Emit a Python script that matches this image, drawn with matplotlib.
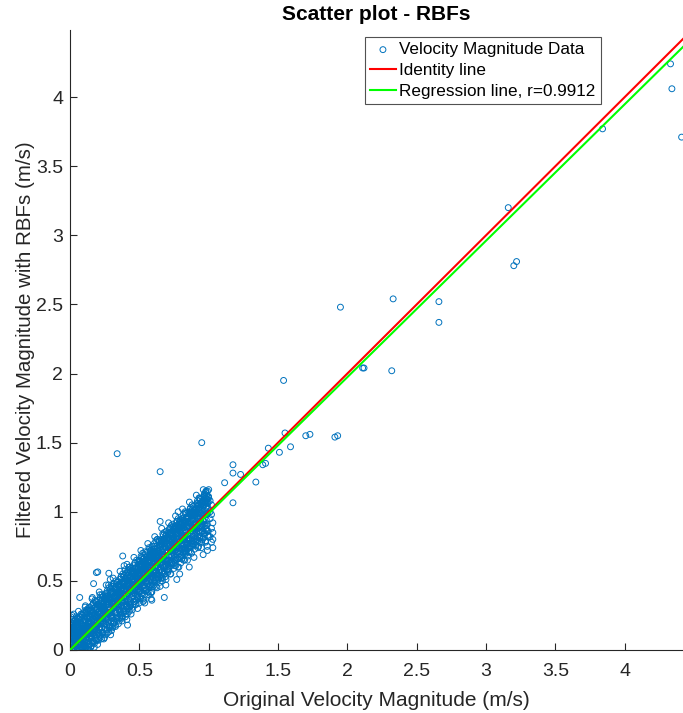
import numpy as np
import matplotlib
matplotlib.use("Agg")
import matplotlib.pyplot as plt

plt.rcParams["font.family"] = ["Liberation Sans", "DejaVu Sans"]

# dense cluster (original, filtered)
cluster_x = [
    0.004, 0.007, 0.009, 0.012, 0.014, 0.017, 0.019, 0.021, 0.023, 0.026, 0.028, 0.031, 0.033, 0.035, 0.037, 0.040, 0.042, 0.044, 0.046, 0.048, 0.011, 0.025, 0.038, 0.016,
    0.051, 0.053, 0.056, 0.058, 0.061, 0.063, 0.066, 0.068, 0.070, 0.073, 0.075, 0.077, 0.080, 0.082, 0.084, 0.087, 0.089, 0.091, 0.094, 0.096, 0.099, 0.059, 0.078, 0.092,
    0.101, 0.103, 0.106, 0.108, 0.111, 0.113, 0.116, 0.118, 0.120, 0.123, 0.125, 0.127, 0.130, 0.132, 0.134, 0.137, 0.139, 0.141, 0.144, 0.146, 0.149, 0.109, 0.128, 0.142,
    0.151, 0.153, 0.156, 0.158, 0.161, 0.163, 0.166, 0.168, 0.170, 0.173, 0.175, 0.177, 0.180, 0.182, 0.184, 0.187, 0.189, 0.191, 0.194, 0.196, 0.199, 0.159, 0.178, 0.192,
    0.201, 0.203, 0.206, 0.208, 0.211, 0.213, 0.216, 0.218, 0.220, 0.223, 0.225, 0.227, 0.230, 0.232, 0.234, 0.237, 0.239, 0.241, 0.244, 0.246, 0.249, 0.209, 0.228, 0.242,
    0.252, 0.254, 0.257, 0.259, 0.262, 0.264, 0.267, 0.269, 0.271, 0.274, 0.276, 0.278, 0.281, 0.283, 0.285, 0.288, 0.290, 0.292, 0.295, 0.297, 0.299, 0.256, 0.279, 0.293,
    0.301, 0.304, 0.306, 0.308, 0.311, 0.313, 0.316, 0.318, 0.321, 0.323, 0.325, 0.328, 0.330, 0.332, 0.335, 0.337, 0.339, 0.342, 0.344, 0.346, 0.349, 0.309, 0.327, 0.341,
    0.351, 0.353, 0.356, 0.358, 0.361, 0.363, 0.366, 0.368, 0.371, 0.373, 0.375, 0.378, 0.380, 0.382, 0.385, 0.387, 0.389, 0.392, 0.394, 0.396, 0.399, 0.359, 0.377, 0.391,
    0.401, 0.404, 0.406, 0.409, 0.411, 0.413, 0.416, 0.418, 0.421, 0.423, 0.426, 0.428, 0.430, 0.433, 0.435, 0.437, 0.440, 0.442, 0.444, 0.447, 0.449, 0.412, 0.427, 0.439,
    0.451, 0.454, 0.456, 0.459, 0.461, 0.463, 0.466, 0.468, 0.471, 0.473, 0.476, 0.478, 0.480, 0.483, 0.485, 0.487, 0.490, 0.492, 0.494, 0.497, 0.499, 0.462, 0.479, 0.491,
    0.501, 0.504, 0.506, 0.509, 0.511, 0.513, 0.516, 0.518, 0.521, 0.523, 0.526, 0.528, 0.530, 0.533, 0.535, 0.537, 0.540, 0.542, 0.544, 0.547, 0.549, 0.512, 0.527, 0.539,
    0.551, 0.554, 0.556, 0.559, 0.561, 0.563, 0.566, 0.568, 0.571, 0.573, 0.576, 0.578, 0.580, 0.583, 0.585, 0.587, 0.590, 0.592, 0.594, 0.597, 0.599, 0.562, 0.579, 0.591,
    0.601, 0.604, 0.606, 0.609, 0.611, 0.613, 0.616, 0.618, 0.621, 0.623, 0.626, 0.628, 0.630, 0.633, 0.635, 0.637, 0.640, 0.642, 0.644, 0.647, 0.649, 0.612, 0.627, 0.641,
    0.651, 0.654, 0.656, 0.659, 0.661, 0.663, 0.666, 0.668, 0.671, 0.673, 0.676, 0.678, 0.680, 0.683, 0.685, 0.687, 0.690, 0.692, 0.694, 0.697, 0.699, 0.662, 0.679, 0.691,
    0.701, 0.704, 0.706, 0.709, 0.711, 0.713, 0.716, 0.718, 0.721, 0.723, 0.726, 0.728, 0.730, 0.733, 0.735, 0.737, 0.740, 0.742, 0.744, 0.747, 0.749, 0.712, 0.727, 0.739,
    0.751, 0.754, 0.756, 0.759, 0.761, 0.763, 0.766, 0.768, 0.771, 0.773, 0.776, 0.778, 0.780, 0.783, 0.785, 0.787, 0.790, 0.792, 0.794, 0.797, 0.799, 0.762, 0.779, 0.791,
    0.801, 0.804, 0.806, 0.809, 0.811, 0.813, 0.816, 0.818, 0.821, 0.823, 0.826, 0.828, 0.830, 0.833, 0.835, 0.837, 0.840, 0.842, 0.844, 0.847, 0.849, 0.812, 0.827, 0.841,
    0.851, 0.854, 0.856, 0.859, 0.861, 0.863, 0.866, 0.868, 0.871, 0.873, 0.876, 0.878, 0.880, 0.883, 0.885, 0.887, 0.890, 0.892, 0.894, 0.897, 0.899, 0.862, 0.879, 0.891,
    0.901, 0.904, 0.906, 0.909, 0.911, 0.913, 0.916, 0.918, 0.921, 0.923, 0.926, 0.928, 0.930, 0.933, 0.935, 0.937, 0.940, 0.942, 0.944, 0.947, 0.949, 0.912, 0.927, 0.941,
    0.951, 0.954, 0.956, 0.959, 0.961, 0.963, 0.966, 0.968, 0.971, 0.973, 0.976, 0.978, 0.980, 0.983, 0.985, 0.987, 0.990, 0.992, 0.994, 0.997, 0.999, 0.962, 0.979, 0.991,
]
cluster_y = [
    0.02, 0.09, 0.15, 0.05, 0.12, 0.19, 0.03, 0.08, 0.17, 0.11, 0.01, 0.14, 0.06, 0.21, 0.10, 0.04, 0.13, 0.18, 0.07, 0.16, 0.22, 0.12, 0.09, 0.00,
    0.11, 0.03, 0.18, 0.07, 0.14, 0.22, 0.01, 0.10, 0.16, 0.05, 0.24, 0.12, 0.08, 0.19, 0.02, 0.15, 0.26, 0.09, 0.13, 0.04, 0.17, 0.20, 0.11, 0.07,
    0.15, 0.06, 0.21, 0.11, 0.03, 0.18, 0.27, 0.09, 0.14, 0.23, 0.01, 0.16, 0.12, 0.29, 0.07, 0.20, 0.13, 0.04, 0.24, 0.17, 0.10, 0.31, 0.19, 0.08,
    0.19, 0.10, 0.26, 0.14, 0.05, 0.22, 0.33, 0.12, 0.17, 0.28, 0.02, 0.20, 0.15, 0.35, 0.09, 0.24, 0.18, 0.07, 0.30, 0.21, 0.13, 0.37, 0.25, 0.11,
    0.18, 0.27, 0.12, 0.33, 0.22, 0.16, 0.40, 0.09, 0.26, 0.21, 0.32, 0.16, 0.38, 0.23, 0.12, 0.30, 0.21, 0.34, 0.08, 0.28, 0.38, 0.15, 0.31, 0.20,
    0.30, 0.15, 0.28, 0.40, 0.22, 0.35, 0.12, 0.27, 0.38, 0.20, 0.31, 0.47, 0.26, 0.16, 0.36, 0.42, 0.24, 0.30, 0.21, 0.46, 0.34, 0.25, 0.38, 0.11,
    0.27, 0.40, 0.23, 0.35, 0.48, 0.19, 0.33, 0.39, 0.27, 0.45, 0.32, 0.17, 0.39, 0.44, 0.27, 0.36, 0.49, 0.24, 0.42, 0.33, 0.40, 0.17, 0.45, 0.34,
    0.43, 0.29, 0.37, 0.23, 0.48, 0.40, 0.28, 0.53, 0.35, 0.43, 0.21, 0.48, 0.34, 0.41, 0.53, 0.28, 0.39, 0.48, 0.32, 0.58, 0.39, 0.41, 0.24, 0.50,
    0.35, 0.51, 0.43, 0.31, 0.48, 0.26, 0.56, 0.41, 0.46, 0.34, 0.60, 0.43, 0.31, 0.52, 0.41, 0.57, 0.26, 0.50, 0.38, 0.55, 0.46, 0.32, 0.58, 0.47,
    0.51, 0.43, 0.59, 0.35, 0.49, 0.55, 0.41, 0.63, 0.33, 0.48, 0.56, 0.44, 0.60, 0.39, 0.54, 0.30, 0.59, 0.49, 0.42, 0.65, 0.47, 0.50, 0.36, 0.56,
    0.42, 0.54, 0.62, 0.48, 0.38, 0.58, 0.52, 0.67, 0.46, 0.61, 0.37, 0.55, 0.66, 0.43, 0.59, 0.53, 0.71, 0.49, 0.62, 0.43, 0.58, 0.61, 0.51, 0.34,
    0.58, 0.46, 0.68, 0.52, 0.63, 0.42, 0.58, 0.67, 0.50, 0.73, 0.56, 0.63, 0.47, 0.72, 0.54, 0.67, 0.42, 0.59, 0.70, 0.52, 0.66, 0.55, 0.71, 0.47,
    0.56, 0.69, 0.49, 0.63, 0.75, 0.54, 0.68, 0.61, 0.46, 0.73, 0.67, 0.54, 0.80, 0.60, 0.72, 0.51, 0.65, 0.76, 0.58, 0.70, 0.46, 0.71, 0.61, 0.79,
    0.72, 0.60, 0.79, 0.56, 0.68, 0.76, 0.52, 0.71, 0.65, 0.83, 0.60, 0.68, 0.80, 0.55, 0.75, 0.65, 0.78, 0.51, 0.83, 0.71, 0.63, 0.77, 0.68, 0.47,
    0.64, 0.81, 0.72, 0.57, 0.79, 0.68, 0.87, 0.63, 0.76, 0.55, 0.85, 0.73, 0.68, 0.82, 0.63, 0.80, 0.91, 0.72, 0.66, 0.88, 0.78, 0.58, 0.80, 0.73,
    0.80, 0.65, 0.89, 0.74, 0.84, 0.61, 0.79, 0.88, 0.71, 0.93, 0.66, 0.82, 0.75, 0.88, 0.60, 0.86, 0.72, 0.93, 0.79, 0.71, 0.92, 0.72, 0.84, 0.55,
    0.77, 0.89, 0.68, 0.95, 0.82, 0.73, 0.88, 0.65, 0.93, 0.81, 0.87, 0.72, 0.99, 0.78, 0.92, 0.70, 0.86, 0.96, 0.77, 0.65, 0.95, 0.81, 0.73, 0.89,
    0.93, 0.81, 0.99, 0.74, 0.89, 0.79, 1.02, 0.71, 0.93, 0.86, 0.99, 0.79, 0.89, 1.02, 0.75, 0.94, 0.84, 0.99, 0.67, 0.97, 0.88, 0.98, 0.77, 0.89,
    0.83, 1.00, 0.91, 0.78, 0.97, 0.88, 1.06, 0.82, 0.95, 0.74, 1.05, 0.88, 1.01, 0.78, 0.95, 1.10, 0.86, 0.99, 0.93, 0.74, 1.06, 0.80, 1.00, 0.90,
    0.99, 0.86, 1.08, 0.94, 0.81, 1.04, 0.91, 1.12, 0.85, 0.98, 1.08, 0.79, 1.03, 0.94, 1.12, 0.91, 0.75, 1.06, 0.99, 0.86, 1.11, 0.93, 1.14, 0.72,
]

# second pass over the core of the cluster (tighter around the diagonal)
core_x = [
    0.002, 0.006, 0.010, 0.013, 0.015, 0.018, 0.020, 0.022, 0.024, 0.027, 0.029, 0.030, 0.032, 0.034, 0.036, 0.039, 0.041, 0.043, 0.045, 0.047, 0.049, 0.003, 0.020, 0.033,
    0.050, 0.052, 0.055, 0.057, 0.060, 0.062, 0.064, 0.067, 0.069, 0.071, 0.074, 0.076, 0.079, 0.081, 0.083, 0.086, 0.088, 0.090, 0.093, 0.095, 0.097, 0.054, 0.072, 0.085,
    0.100, 0.102, 0.105, 0.107, 0.110, 0.112, 0.114, 0.117, 0.119, 0.121, 0.124, 0.126, 0.129, 0.131, 0.133, 0.136, 0.138, 0.140, 0.143, 0.145, 0.147, 0.104, 0.122, 0.135,
    0.150, 0.152, 0.155, 0.157, 0.160, 0.162, 0.164, 0.167, 0.169, 0.171, 0.174, 0.176, 0.179, 0.181, 0.183, 0.186, 0.188, 0.190, 0.193, 0.195, 0.197, 0.154, 0.172, 0.185,
    0.200, 0.202, 0.205, 0.207, 0.210, 0.212, 0.214, 0.217, 0.219, 0.221, 0.224, 0.226, 0.229, 0.231, 0.233, 0.236, 0.238, 0.240, 0.243, 0.245, 0.247, 0.204, 0.222, 0.235,
    0.250, 0.253, 0.255, 0.258, 0.260, 0.263, 0.265, 0.268, 0.270, 0.272, 0.275, 0.277, 0.280, 0.282, 0.284, 0.287, 0.289, 0.291, 0.294, 0.296, 0.298, 0.257, 0.273, 0.286,
    0.300, 0.303, 0.305, 0.308, 0.310, 0.312, 0.315, 0.317, 0.320, 0.322, 0.324, 0.327, 0.329, 0.331, 0.334, 0.336, 0.338, 0.340, 0.343, 0.345, 0.348, 0.306, 0.326, 0.344,
    0.350, 0.352, 0.355, 0.357, 0.360, 0.362, 0.364, 0.367, 0.369, 0.372, 0.374, 0.376, 0.379, 0.381, 0.383, 0.386, 0.388, 0.390, 0.393, 0.395, 0.397, 0.354, 0.370, 0.384,
    0.400, 0.402, 0.405, 0.407, 0.410, 0.412, 0.414, 0.417, 0.419, 0.422, 0.424, 0.426, 0.429, 0.431, 0.433, 0.436, 0.438, 0.440, 0.443, 0.445, 0.447, 0.404, 0.420, 0.434,
    0.450, 0.452, 0.455, 0.457, 0.460, 0.462, 0.464, 0.467, 0.469, 0.472, 0.474, 0.476, 0.479, 0.481, 0.483, 0.486, 0.488, 0.490, 0.493, 0.495, 0.497, 0.454, 0.470, 0.484,
    0.500, 0.502, 0.505, 0.507, 0.510, 0.512, 0.514, 0.517, 0.519, 0.522, 0.524, 0.526, 0.529, 0.531, 0.533, 0.536, 0.538, 0.540, 0.543, 0.545, 0.547, 0.504, 0.520, 0.534,
    0.550, 0.553, 0.555, 0.558, 0.560, 0.562, 0.565, 0.567, 0.570, 0.572, 0.574, 0.577, 0.579, 0.581, 0.584, 0.586, 0.588, 0.590, 0.593, 0.595, 0.598, 0.557, 0.575, 0.589,
    0.600, 0.602, 0.605, 0.607, 0.610, 0.612, 0.614, 0.617, 0.619, 0.622, 0.624, 0.626, 0.629, 0.631, 0.633, 0.636, 0.638, 0.640, 0.643, 0.645, 0.647, 0.604, 0.620, 0.634,
    0.650, 0.652, 0.655, 0.657, 0.660, 0.662, 0.664, 0.667, 0.669, 0.672, 0.674, 0.676, 0.679, 0.681, 0.683, 0.686, 0.688, 0.690, 0.693, 0.695, 0.697, 0.654, 0.670, 0.684,
    0.700, 0.702, 0.705, 0.707, 0.710, 0.712, 0.714, 0.717, 0.719, 0.722, 0.724, 0.726, 0.729, 0.731, 0.733, 0.736, 0.738, 0.740, 0.743, 0.745, 0.747, 0.704, 0.720, 0.734,
    0.750, 0.752, 0.755, 0.757, 0.760, 0.762, 0.764, 0.767, 0.769, 0.772, 0.774, 0.776, 0.779, 0.781, 0.783, 0.786, 0.788, 0.790, 0.793, 0.795, 0.797, 0.754, 0.770, 0.784,
    0.800, 0.802, 0.805, 0.807, 0.810, 0.812, 0.814, 0.817, 0.819, 0.822, 0.824, 0.826, 0.829, 0.831, 0.833, 0.836, 0.838, 0.840, 0.843, 0.845, 0.847, 0.804, 0.820, 0.834,
    0.850, 0.852, 0.855, 0.857, 0.860, 0.862, 0.864, 0.867, 0.869, 0.872, 0.874, 0.876, 0.879, 0.881, 0.883, 0.886, 0.888, 0.890, 0.893, 0.895, 0.897, 0.854, 0.870, 0.884,
    0.900, 0.902, 0.905, 0.907, 0.910, 0.912, 0.914, 0.917, 0.919, 0.922, 0.924, 0.926, 0.929, 0.931, 0.933, 0.936, 0.938, 0.940, 0.943, 0.945, 0.947, 0.904, 0.920, 0.934,
    0.950, 0.952, 0.955, 0.957, 0.960, 0.962, 0.964, 0.967, 0.969, 0.972, 0.974, 0.976, 0.979, 0.981, 0.983, 0.986, 0.988, 0.990, 0.993, 0.995, 0.997, 0.954, 0.970, 0.984,
]
core_y = [
    0.06, 0.12, 0.04, 0.10, 0.16, 0.08, 0.13, 0.05, 0.11, 0.15, 0.07, 0.02, 0.12, 0.09, 0.14, 0.06, 0.18, 0.10, 0.03, 0.12, 0.08, 0.14, 0.17, 0.03,
    0.07, 0.00, 0.14, 0.10, 0.04, 0.16, 0.06, 0.01, 0.13, 0.19, 0.04, 0.11, 0.15, 0.04, 0.09, 0.18, 0.02, 0.14, 0.08, 0.21, 0.14, 0.02, 0.13, 0.11,
    0.06, 0.16, 0.12, 0.03, 0.21, 0.14, 0.09, 0.20, 0.06, 0.17, 0.24, 0.12, 0.17, 0.04, 0.20, 0.14, 0.25, 0.09, 0.16, 0.24, 0.12, 0.16, 0.05, 0.17,
    0.20, 0.12, 0.25, 0.09, 0.18, 0.27, 0.15, 0.23, 0.07, 0.20, 0.25, 0.13, 0.31, 0.18, 0.14, 0.26, 0.23, 0.11, 0.29, 0.18, 0.25, 0.16, 0.11, 0.31,
    0.18, 0.27, 0.24, 0.12, 0.32, 0.16, 0.26, 0.23, 0.11, 0.31, 0.24, 0.19, 0.29, 0.36, 0.16, 0.24, 0.28, 0.23, 0.32, 0.19, 0.35, 0.23, 0.19, 0.30,
    0.29, 0.19, 0.36, 0.27, 0.23, 0.33, 0.18, 0.39, 0.29, 0.26, 0.34, 0.23, 0.37, 0.31, 0.17, 0.34, 0.29, 0.37, 0.25, 0.41, 0.23, 0.28, 0.33, 0.27,
    0.25, 0.38, 0.33, 0.23, 0.42, 0.35, 0.30, 0.38, 0.20, 0.41, 0.32, 0.38, 0.27, 0.46, 0.36, 0.31, 0.41, 0.25, 0.44, 0.35, 0.31, 0.37, 0.35, 0.33,
    0.41, 0.32, 0.46, 0.29, 0.38, 0.44, 0.26, 0.41, 0.49, 0.32, 0.38, 0.45, 0.36, 0.49, 0.30, 0.44, 0.39, 0.48, 0.35, 0.43, 0.28, 0.42, 0.36, 0.43,
    0.37, 0.49, 0.43, 0.32, 0.47, 0.53, 0.36, 0.45, 0.41, 0.50, 0.31, 0.48, 0.43, 0.53, 0.36, 0.48, 0.42, 0.57, 0.51, 0.41, 0.46, 0.32, 0.48, 0.45,
    0.50, 0.39, 0.56, 0.47, 0.43, 0.54, 0.37, 0.59, 0.50, 0.46, 0.54, 0.36, 0.52, 0.57, 0.43, 0.49, 0.60, 0.42, 0.55, 0.52, 0.48, 0.53, 0.43, 0.51,
    0.46, 0.57, 0.53, 0.43, 0.62, 0.55, 0.49, 0.61, 0.41, 0.57, 0.52, 0.66, 0.47, 0.56, 0.61, 0.51, 0.60, 0.45, 0.55, 0.65, 0.50, 0.54, 0.51, 0.60,
    0.61, 0.50, 0.57, 0.66, 0.48, 0.60, 0.56, 0.65, 0.45, 0.60, 0.69, 0.55, 0.65, 0.51, 0.58, 0.68, 0.55, 0.64, 0.49, 0.62, 0.71, 0.54, 0.64, 0.53,
    0.58, 0.68, 0.54, 0.64, 0.73, 0.57, 0.66, 0.52, 0.63, 0.71, 0.56, 0.69, 0.62, 0.74, 0.55, 0.68, 0.64, 0.52, 0.71, 0.67, 0.62, 0.70, 0.57, 0.66,
    0.69, 0.58, 0.75, 0.66, 0.63, 0.77, 0.57, 0.73, 0.69, 0.62, 0.80, 0.67, 0.75, 0.57, 0.71, 0.77, 0.65, 0.74, 0.61, 0.80, 0.71, 0.63, 0.73, 0.62,
    0.65, 0.77, 0.72, 0.62, 0.81, 0.75, 0.68, 0.84, 0.65, 0.74, 0.80, 0.61, 0.78, 0.72, 0.84, 0.68, 0.77, 0.83, 0.70, 0.75, 0.81, 0.62, 0.85, 0.71,
    0.78, 0.69, 0.85, 0.74, 0.88, 0.67, 0.81, 0.77, 0.73, 0.84, 0.66, 0.88, 0.80, 0.71, 0.84, 0.78, 0.92, 0.74, 0.83, 0.88, 0.67, 0.76, 0.74, 0.89,
    0.77, 0.87, 0.73, 0.83, 0.91, 0.76, 0.86, 0.71, 0.94, 0.82, 0.80, 0.91, 0.76, 0.87, 0.70, 0.93, 0.85, 0.80, 0.95, 0.76, 0.91, 0.83, 0.76, 0.85,
    0.90, 0.81, 0.96, 0.77, 0.88, 0.93, 0.80, 0.99, 0.86, 0.91, 0.75, 0.97, 0.88, 0.81, 0.94, 1.00, 0.86, 0.92, 0.79, 0.98, 0.91, 0.80, 1.00, 0.86,
    0.86, 0.98, 0.92, 0.81, 1.02, 0.85, 0.96, 1.06, 0.90, 0.95, 0.79, 1.02, 0.86, 0.99, 0.93, 1.06, 0.89, 0.96, 0.85, 1.05, 0.99, 0.90, 0.99, 0.82,
    1.01, 0.90, 1.07, 0.86, 0.98, 1.05, 0.93, 1.11, 0.84, 1.01, 0.90, 1.06, 0.98, 1.10, 0.90, 1.04, 0.98, 1.09, 0.83, 1.03, 1.07, 0.91, 1.11, 0.87,
]

# upper and lower rim of the cluster
rim_x = [
    0.003, 0.008, 0.013, 0.018, 0.024, 0.029, 0.034, 0.039, 0.044, 0.049, 0.006, 0.016, 0.027, 0.037, 0.046, 0.021,
    0.052, 0.058, 0.063, 0.069, 0.074, 0.080, 0.085, 0.091, 0.096, 0.055, 0.066, 0.077, 0.088, 0.099, 0.061, 0.083,
    0.102, 0.108, 0.113, 0.119, 0.124, 0.130, 0.135, 0.141, 0.146, 0.105, 0.116, 0.127, 0.138, 0.149, 0.111, 0.133,
    0.152, 0.158, 0.163, 0.169, 0.174, 0.180, 0.185, 0.191, 0.196, 0.155, 0.166, 0.177, 0.188, 0.199, 0.161, 0.183,
    0.202, 0.208, 0.213, 0.219, 0.224, 0.230, 0.235, 0.241, 0.246, 0.205, 0.216, 0.227, 0.238, 0.249, 0.211, 0.233,
    0.252, 0.258, 0.263, 0.269, 0.274, 0.280, 0.285, 0.291, 0.296, 0.255, 0.266, 0.277, 0.288, 0.299, 0.261, 0.283,
    0.302, 0.308, 0.313, 0.319, 0.324, 0.330, 0.335, 0.341, 0.346, 0.305, 0.316, 0.327, 0.338, 0.349, 0.311, 0.333,
    0.352, 0.358, 0.363, 0.369, 0.374, 0.380, 0.385, 0.391, 0.396, 0.355, 0.366, 0.377, 0.388, 0.399, 0.361, 0.383,
    0.402, 0.408, 0.413, 0.419, 0.424, 0.430, 0.435, 0.441, 0.446, 0.405, 0.416, 0.427, 0.438, 0.449, 0.411, 0.433,
    0.452, 0.458, 0.463, 0.469, 0.474, 0.480, 0.485, 0.491, 0.496, 0.455, 0.466, 0.477, 0.488, 0.499, 0.461, 0.483,
    0.502, 0.508, 0.513, 0.519, 0.524, 0.530, 0.535, 0.541, 0.546, 0.505, 0.516, 0.527, 0.538, 0.549, 0.511, 0.533,
    0.552, 0.558, 0.563, 0.569, 0.574, 0.580, 0.585, 0.591, 0.596, 0.555, 0.566, 0.577, 0.588, 0.599, 0.561, 0.583,
    0.602, 0.608, 0.613, 0.619, 0.624, 0.630, 0.635, 0.641, 0.646, 0.605, 0.616, 0.627, 0.638, 0.649, 0.611, 0.633,
    0.652, 0.658, 0.663, 0.669, 0.674, 0.680, 0.685, 0.691, 0.696, 0.655, 0.666, 0.677, 0.688, 0.699, 0.661, 0.683,
    0.702, 0.708, 0.713, 0.719, 0.724, 0.730, 0.735, 0.741, 0.746, 0.705, 0.716, 0.727, 0.738, 0.749, 0.711, 0.733,
    0.752, 0.758, 0.763, 0.769, 0.774, 0.780, 0.785, 0.791, 0.796, 0.755, 0.766, 0.777, 0.788, 0.799, 0.761, 0.783,
    0.802, 0.808, 0.813, 0.819, 0.824, 0.830, 0.835, 0.841, 0.846, 0.805, 0.816, 0.827, 0.838, 0.849, 0.811, 0.833,
    0.852, 0.858, 0.863, 0.869, 0.874, 0.880, 0.885, 0.891, 0.896, 0.855, 0.866, 0.877, 0.888, 0.899, 0.861, 0.883,
    0.902, 0.908, 0.913, 0.919, 0.924, 0.930, 0.935, 0.941, 0.946, 0.905, 0.916, 0.927, 0.938, 0.949, 0.911, 0.933,
    0.952, 0.958, 0.963, 0.969, 0.974, 0.980, 0.985, 0.991, 0.996, 0.955, 0.966, 0.977, 0.988, 0.999, 0.961, 0.983,
]
rim_y = [
    0.18, 0.20, 0.16, 0.22, 0.19, 0.17, 0.21, 0.18, 0.20, 0.23, 0.24, 0.25, 0.26, 0.15, 0.24, 0.00,
    0.20, 0.23, 0.17, 0.24, 0.21, 0.26, 0.19, 0.25, 0.27, 0.00, 0.01, 0.00, 0.02, 0.00, 0.28, 0.01,
    0.24, 0.27, 0.22, 0.29, 0.26, 0.30, 0.24, 0.31, 0.28, 0.00, 0.02, 0.01, 0.03, 0.02, 0.32, 0.00,
    0.29, 0.32, 0.27, 0.34, 0.30, 0.36, 0.29, 0.35, 0.33, 0.03, 0.06, 0.05, 0.07, 0.04, 0.38, 0.08,
    0.33, 0.36, 0.31, 0.38, 0.35, 0.40, 0.33, 0.39, 0.37, 0.07, 0.10, 0.08, 0.12, 0.09, 0.42, 0.13,
    0.37, 0.41, 0.36, 0.43, 0.39, 0.45, 0.38, 0.44, 0.42, 0.11, 0.15, 0.13, 0.17, 0.14, 0.47, 0.18,
    0.42, 0.46, 0.41, 0.48, 0.44, 0.50, 0.43, 0.49, 0.47, 0.16, 0.20, 0.18, 0.22, 0.19, 0.52, 0.23,
    0.47, 0.51, 0.46, 0.53, 0.49, 0.55, 0.48, 0.54, 0.52, 0.21, 0.25, 0.23, 0.27, 0.24, 0.57, 0.28,
    0.52, 0.56, 0.51, 0.58, 0.54, 0.60, 0.53, 0.59, 0.57, 0.26, 0.30, 0.28, 0.32, 0.29, 0.62, 0.33,
    0.57, 0.61, 0.56, 0.63, 0.59, 0.65, 0.58, 0.64, 0.62, 0.31, 0.35, 0.33, 0.37, 0.34, 0.67, 0.38,
    0.64, 0.60, 0.68, 0.62, 0.70, 0.63, 0.66, 0.69, 0.61, 0.37, 0.41, 0.35, 0.40, 0.43, 0.72, 0.36,
    0.66, 0.71, 0.65, 0.74, 0.68, 0.72, 0.67, 0.75, 0.70, 0.44, 0.40, 0.47, 0.42, 0.46, 0.77, 0.41,
    0.73, 0.77, 0.71, 0.79, 0.75, 0.80, 0.72, 0.78, 0.76, 0.47, 0.51, 0.45, 0.52, 0.49, 0.82, 0.53,
    0.76, 0.80, 0.78, 0.84, 0.77, 0.85, 0.81, 0.83, 0.86, 0.52, 0.50, 0.56, 0.53, 0.58, 0.88, 0.55,
    0.82, 0.85, 0.80, 0.88, 0.84, 0.90, 0.83, 0.89, 0.86, 0.56, 0.60, 0.55, 0.62, 0.59, 0.92, 0.63,
    0.86, 0.90, 0.88, 0.93, 0.87, 0.95, 0.89, 0.94, 0.91, 0.61, 0.65, 0.60, 0.67, 0.63, 0.97, 0.66,
    0.92, 0.95, 0.90, 0.98, 0.94, 1.00, 0.93, 0.99, 0.96, 0.66, 0.70, 0.65, 0.72, 0.68, 1.02, 0.71,
    0.96, 1.00, 0.98, 1.03, 0.97, 1.05, 0.99, 1.04, 1.01, 0.71, 0.75, 0.70, 0.77, 0.73, 1.07, 0.76,
    1.02, 1.05, 1.00, 1.08, 1.04, 1.10, 1.03, 1.09, 1.06, 0.76, 0.80, 0.75, 0.82, 0.78, 1.12, 0.81,
    1.06, 1.10, 1.08, 1.13, 1.07, 1.14, 1.09, 1.15, 1.11, 0.80, 0.84, 0.78, 0.86, 0.82, 1.16, 0.88,
]

# loose points around the edge of the cluster
edge_x = [0.04, 0.07, 0.17, 0.19, 0.20, 0.28, 0.29, 0.38, 0.39, 0.41, 0.415, 0.51, 0.585, 0.59,
          0.65, 0.68, 0.77, 0.78, 0.86, 0.96, 0.98, 1.00, 1.01, 1.02, 1.03, 1.01, 1.02, 1.03, 1.00, 1.01,
          1.02, 1.03, 1.02, 1.01, 1.03]
edge_y = [0.22, 0.38, 0.48, 0.56, 0.565, 0.555, 0.51, 0.68, 0.61, 0.22, 0.18, 0.64, 0.37, 0.36,
          0.93, 0.38, 0.51, 1.00, 0.60, 0.69, 1.15, 1.16, 0.95, 0.78, 0.85, 0.82, 1.05, 0.74, 1.10, 1.00,
          0.88, 0.92, 0.98, 1.08, 0.80]

# outliers
outlier_x = [0.34, 0.65, 0.95, 1.115, 1.175, 1.175, 1.23, 1.34, 1.175, 1.39, 1.41, 1.43, 1.51, 1.55,
             1.59, 1.70, 1.73, 1.91, 1.93, 1.54, 1.95, 2.11, 2.12, 2.32, 2.33, 2.66, 2.66,
             3.16, 3.20, 3.22, 3.84, 4.33, 4.34, 4.41]
outlier_y = [1.42, 1.29, 1.50, 1.21, 1.34, 1.28, 1.27, 1.215, 1.065, 1.34, 1.35, 1.46, 1.43, 1.57,
             1.47, 1.55, 1.56, 1.54, 1.55, 1.95, 2.48, 2.04, 2.04, 2.02, 2.54, 2.52, 2.37,
             3.20, 2.78, 2.81, 3.77, 4.24, 4.06, 3.71]

line_x = [0.0, 4.42]
reg_slope = 0.987
reg_intercept = 0.0
r_value = 0.9912

tick_vals = [0, 0.5, 1, 1.5, 2, 2.5, 3, 3.5, 4]
tick_labels = ["0", "0.5", "1", "1.5", "2", "2.5", "3", "3.5", "4"]

x_all = np.concatenate([cluster_x, core_x, rim_x, edge_x, outlier_x])
y_all = np.concatenate([cluster_y, core_y, rim_y, edge_y, outlier_y])

fig = plt.figure(figsize=(6.83, 7.13), dpi=100)
ax = fig.add_axes([70 / 683, 63 / 713, 613 / 683, 620 / 713])

ax.scatter(x_all, y_all, s=18, facecolors="none", edgecolors="#0072BD",
           linewidths=0.7, label="Velocity Magnitude Data", zorder=2)
ax.plot(line_x, line_x, color="#FF0000", lw=1.5, label="Identity line", zorder=3)
reg_y = [reg_intercept + reg_slope * v for v in line_x]
ax.plot(line_x, reg_y, color="#00FF00", lw=1.5,
        label=f"Regression line, r={r_value:.4f}", zorder=3)

ax.set_xlim(0, 4.42)
ax.set_ylim(0, 4.485)
ax.set_xticks(tick_vals)
ax.set_yticks(tick_vals)
ax.set_xticklabels(tick_labels)
ax.set_yticklabels(tick_labels)

for s in ["top", "right"]:
    ax.spines[s].set_visible(False)
for s in ["left", "bottom"]:
    ax.spines[s].set_color("#262626")
    ax.spines[s].set_linewidth(0.8)
ax.tick_params(direction="in", length=5, width=0.8, colors="#262626", labelsize=14)
ax.tick_params(axis="x", pad=9)
ax.tick_params(axis="y", pad=5)

ax.set_xlabel("Original Velocity Magnitude (m/s)", fontsize=15, color="#262626", labelpad=8)
ax.set_ylabel("Filtered Velocity Magnitude with RBFs (m/s)", fontsize=14.8, color="#262626", labelpad=1)
ax.set_title("Scatter plot - RBFs", fontsize=15, fontweight="bold", pad=7)

leg = ax.legend(loc="upper left", bbox_to_anchor=(365 / 683, 1 - 37 / 713),
                bbox_transform=fig.transFigure, fontsize=12.3, frameon=True,
                fancybox=False, handlelength=1.5, handletextpad=0.2,
                borderpad=0.3, labelspacing=0.35, borderaxespad=0)
leg.get_frame().set_edgecolor("#262626")
leg.get_frame().set_linewidth(0.8)

fig.savefig("out.png", dpi=100)
